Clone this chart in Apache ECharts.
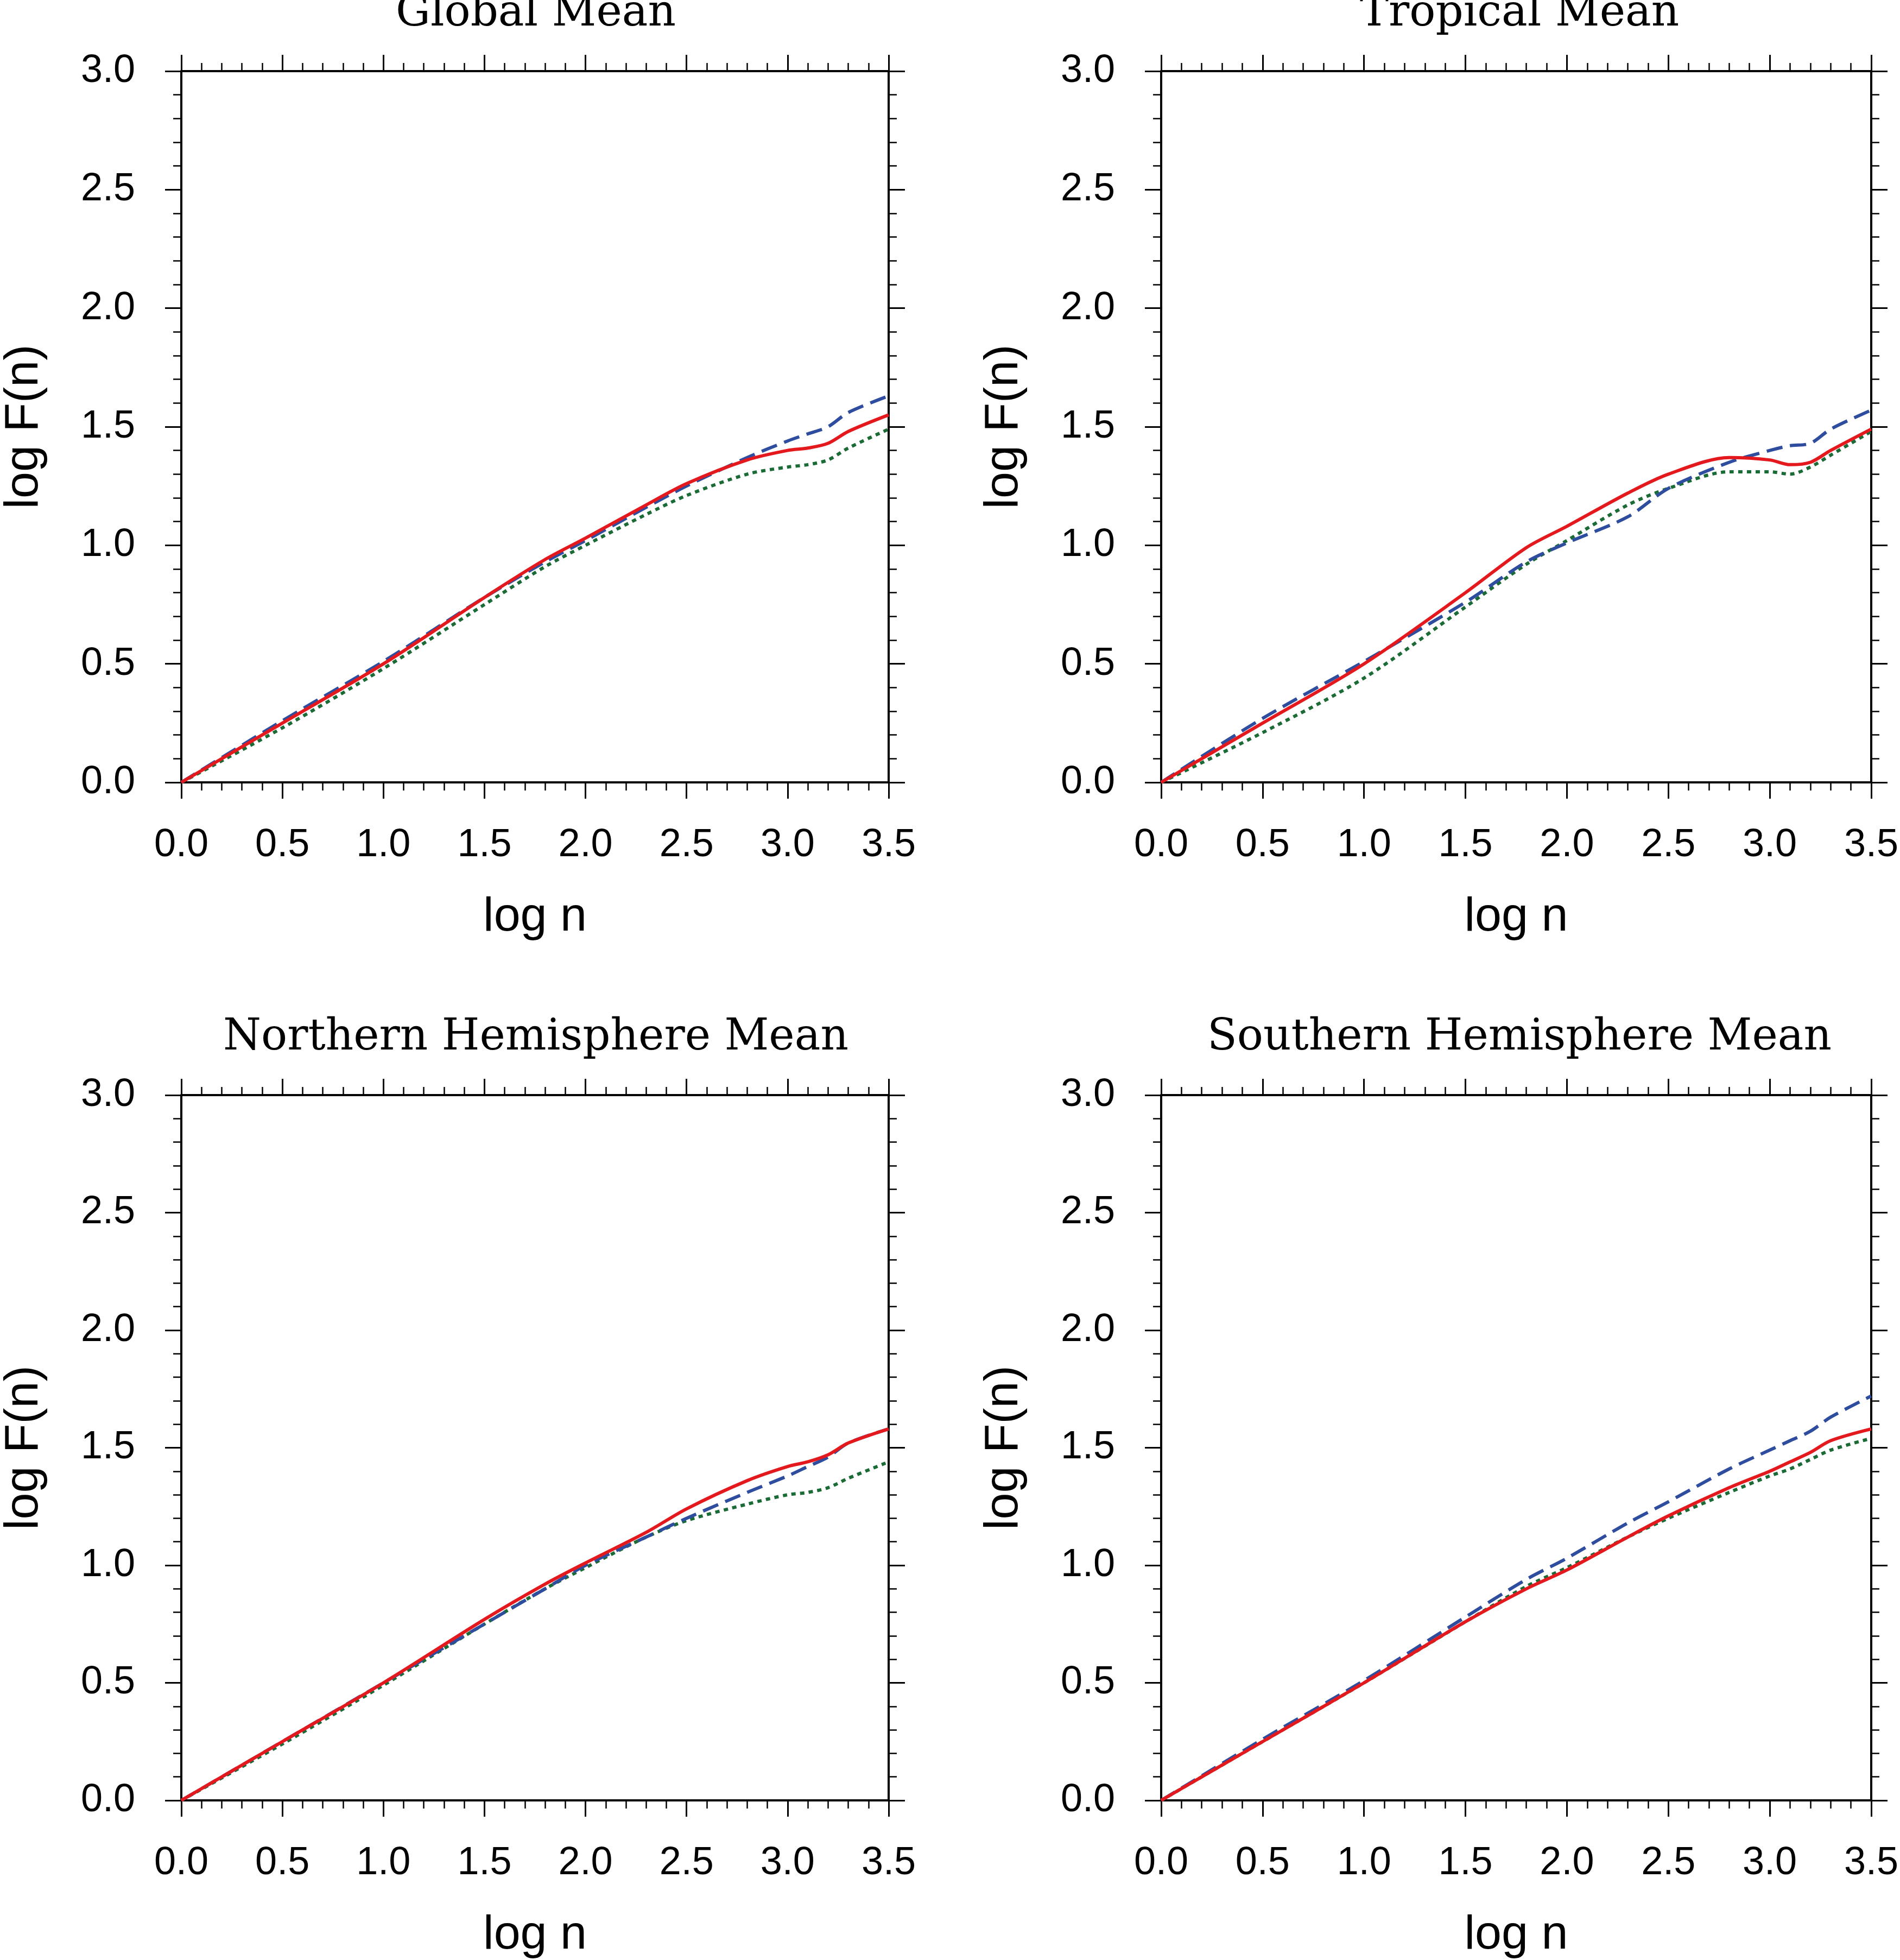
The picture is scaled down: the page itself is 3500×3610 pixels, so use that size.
<!DOCTYPE html>
<html><head><meta charset="utf-8">
<script src="https://cdn.jsdelivr.net/npm/echarts@6/dist/echarts.min.js"></script>
<style>html,body{margin:0;background:#fff}#c{width:3500px;height:3610px}</style>
</head><body><div id="c"></div>
<script>
const xs = [0,0.5,1.0,1.5,1.8,2.0,2.3,2.5,2.8,3.0,3.1,3.2,3.3,3.5];
const titles = ['Global Mean','Tropical Mean','Northern Hemisphere Mean','Southern Hemisphere Mean'];
const redSeries = [
 [0,0.25,0.5,0.78,0.94,1.03,1.17,1.26,1.36,1.40,1.41,1.43,1.48,1.55],
 [0,0.25,0.50,0.80,0.99,1.08,1.22,1.30,1.37,1.36,1.34,1.35,1.40,1.49],
 [0,0.25,0.50,0.77,0.92,1.01,1.14,1.24,1.36,1.42,1.44,1.47,1.52,1.58],
 [0,0.25,0.50,0.76,0.90,0.98,1.12,1.21,1.33,1.40,1.44,1.48,1.53,1.58]];
const blueSeries = [
 [0,0.26,0.51,0.78,0.93,1.02,1.16,1.25,1.37,1.44,1.47,1.50,1.56,1.63],
 [0,0.27,0.51,0.76,0.93,1.01,1.12,1.24,1.35,1.40,1.42,1.43,1.49,1.57],
 [0,0.25,0.50,0.75,0.90,1.00,1.12,1.20,1.31,1.38,1.42,1.46,1.52,1.58],
 [0,0.26,0.51,0.78,0.94,1.03,1.18,1.27,1.41,1.49,1.53,1.57,1.63,1.72]];
const greenSeries = [
 [0,0.23,0.48,0.75,0.91,1.00,1.13,1.21,1.30,1.33,1.34,1.36,1.41,1.49],
 [0,0.21,0.44,0.74,0.92,1.02,1.17,1.24,1.31,1.31,1.30,1.33,1.38,1.48],
 [0,0.24,0.49,0.75,0.90,0.99,1.12,1.19,1.26,1.30,1.31,1.33,1.37,1.44],
 [0,0.25,0.50,0.76,0.91,0.99,1.12,1.20,1.31,1.38,1.41,1.45,1.49,1.54]];

const lefts=[327,2139], tops=[131,2017], W=1310, H=1310;
const grids=[], xAxis=[], yAxis=[], series=[], title=[];
const axisCommon = {
  min:0, interval:0.5,
  axisLine:{onZero:false,lineStyle:{color:'#000',width:4}},
  axisTick:{inside:false,length:30,lineStyle:{color:'#000',width:3}},
  minorTick:{show:true,splitNumber:5,length:15,lineStyle:{color:'#000',width:2.5}},
  splitLine:{show:false}
};
const lab = {color:'#000',fontSize:72,fontFamily:'Liberation Sans, Arial',formatter:v=>v.toFixed(1)};
for(let i=0;i<4;i++){
  const l=lefts[i%2], t=tops[Math.floor(i/2)];
  grids.push({left:l,top:t,width:W,height:H,show:false});
  title.push({text:titles[i],left:l+W/2,top:t-150,textAlign:'center',
    textStyle:{fontFamily:'DejaVu Serif, Liberation Serif',fontWeight:'normal',fontSize:80,color:'#000'}});
  const gx=2*i, gy=2*i;
  xAxis.push(Object.assign({},axisCommon,{type:'value',gridIndex:i,max:3.5,position:'bottom',
    name:'log n',nameLocation:'middle',nameGap:205,nameTextStyle:{fontSize:88,color:'#000',fontFamily:'Liberation Sans, Arial'},
    axisLabel:Object.assign({},lab,{margin:80})}));
  xAxis.push(Object.assign({},axisCommon,{type:'value',gridIndex:i,max:3.5,position:'top',axisLabel:{show:false}}));
  yAxis.push(Object.assign({},axisCommon,{type:'value',gridIndex:i,max:3.0,position:'left',
    name:'log F(n)',nameLocation:'middle',nameGap:245,nameTextStyle:{fontSize:88,color:'#000',fontFamily:'Liberation Sans, Arial'},
    axisLabel:Object.assign({},lab,{margin:85})}));
  yAxis.push(Object.assign({},axisCommon,{type:'value',gridIndex:i,max:3.0,position:'right',axisLabel:{show:false}}));
  const mk=(arr,color,type)=>({type:'line',xAxisIndex:gx,yAxisIndex:gy,smooth:0.3,symbol:'none',
    data:xs.map((x,k)=>[x,arr[i][k]]),lineStyle:{color,width:6,type},z:type==='solid'?3:2});
  series.push(mk(greenSeries,'#1b6b37',[8,8]));
  series.push(mk(blueSeries,'#2e4d9e',[30,14]));
  series.push(mk(redSeries,'#e3191e','solid'));
}
const chart=echarts.init(document.getElementById('c'));
chart.setOption({animation:false,backgroundColor:'#fff',title,grid:grids,xAxis,yAxis,series});
</script></body></html>
